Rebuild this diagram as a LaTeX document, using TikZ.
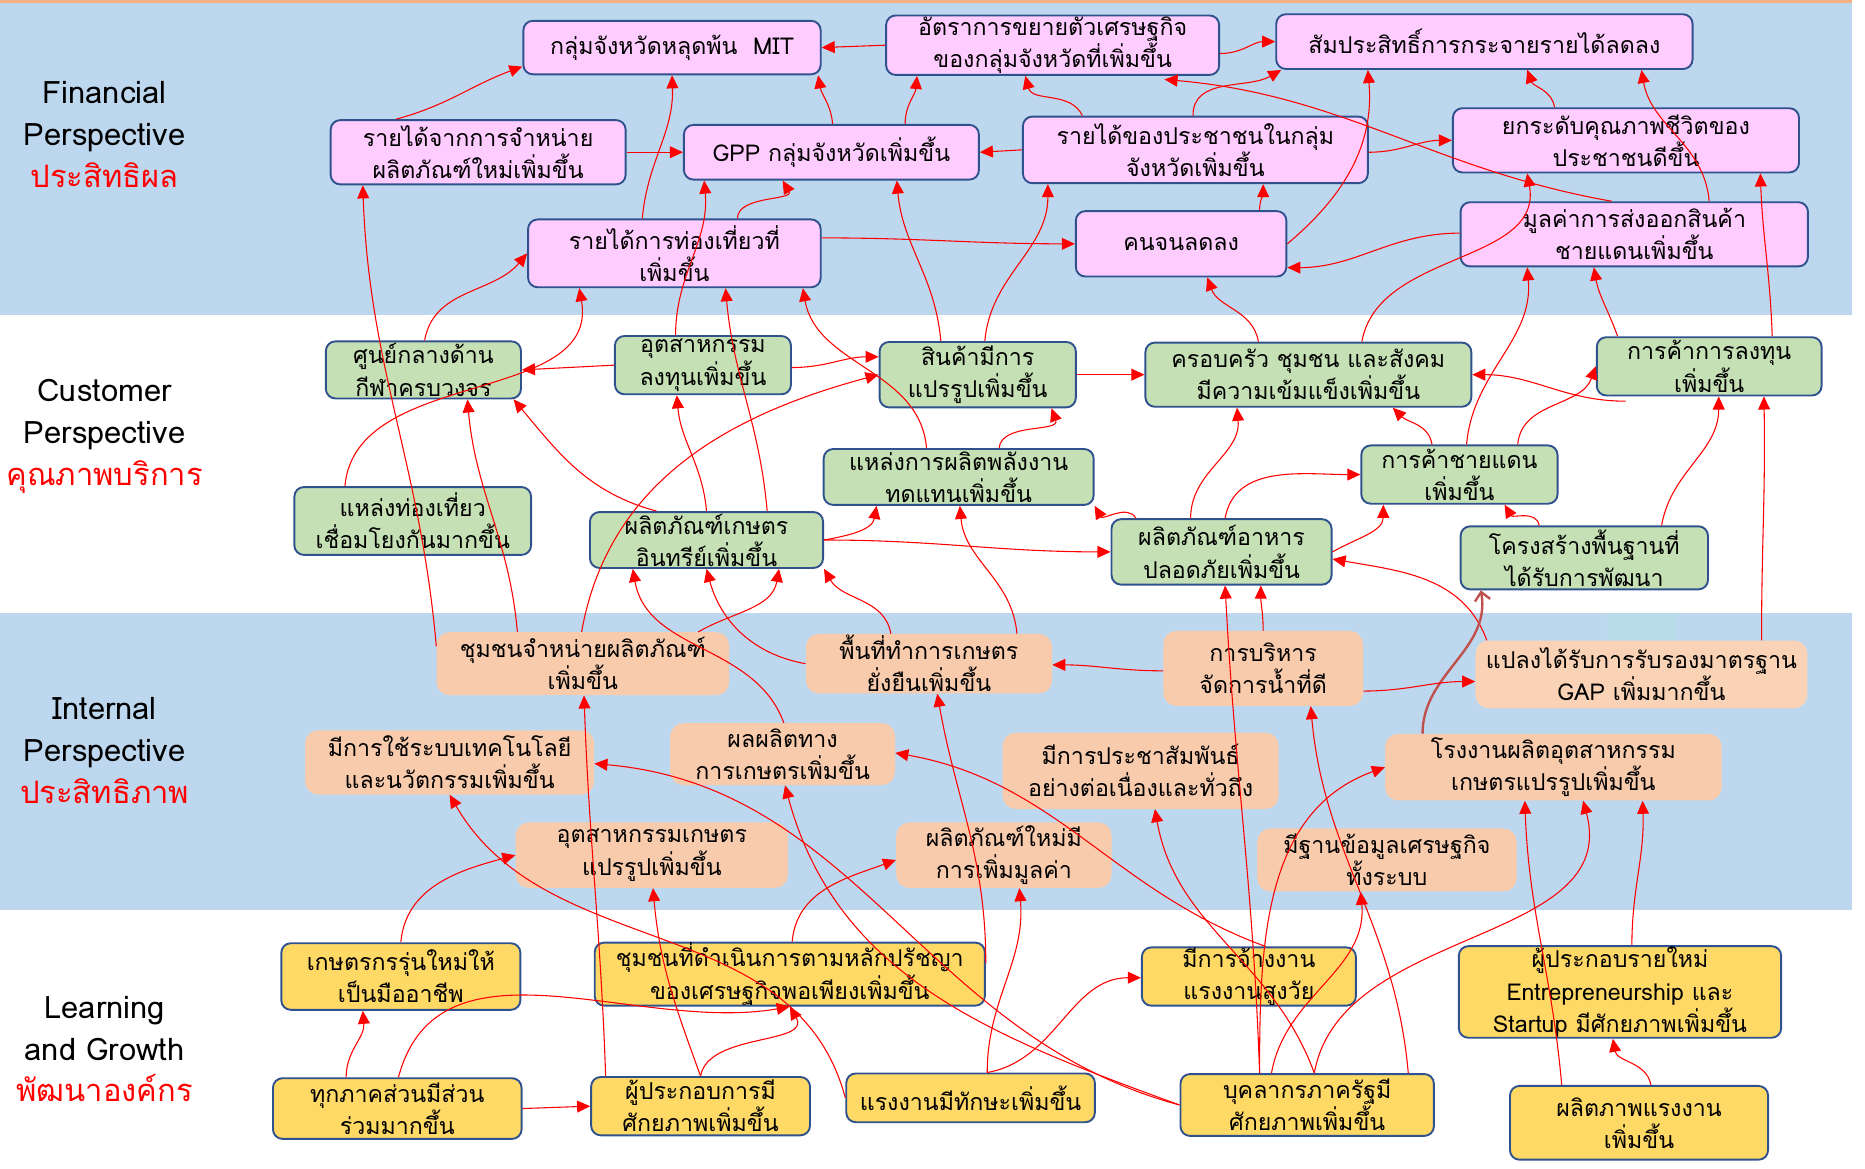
\documentclass[tikz,border=0pt]{standalone}
\usepackage{fontspec}
\setmainfont[Script=Thai]{Loma}
\usetikzlibrary{arrows.meta}
\definecolor{bandblue}{HTML}{BDD7EE}
\definecolor{topline}{HTML}{F4B183}
\definecolor{pinkfill}{HTML}{FFCCFF}
\definecolor{greenfill}{HTML}{C5E0B4}
\definecolor{peachfill}{HTML}{F8CBAD}
\definecolor{peachlight}{HTML}{FAD3B6}
\definecolor{yellowfill}{HTML}{FFD966}
\definecolor{bordercol}{HTML}{2F528F}
\definecolor{darkarrow}{HTML}{C0504D}
\definecolor{tealpatch}{HTML}{B7DDE8}
\tikzset{
  boxbase/.style={align=center, inner sep=0pt, font=\fontsize{19.5}{27}\selectfont},
  bordered/.style={boxbase, rounded corners=8pt, draw=bordercol, line width=1.6pt},
  fin/.style={bordered, fill=pinkfill},
  cus/.style={bordered, fill=greenfill},
  intl/.style={boxbase, rounded corners=11pt, fill=peachfill},
  lrn/.style={bordered, fill=yellowfill},
  arr/.style={draw=red, line width=0.9pt, -{Triangle[length=11pt,width=10pt]}},
  darr/.style={draw=darkarrow, line width=2pt, -{Straight Barb[length=7pt,width=13pt]}},
  lbl/.style={align=center, inner sep=0pt, font=\fontsize{26}{35}\selectfont}
}
\begin{document}
\begin{tikzpicture}[x=1pt,y=1pt]
\useasboundingbox (0,0) rectangle (1568,-982);
% bands
\fill[topline] (0,0) rectangle (1557,-2.5);
\fill[bandblue] (0,-2.5) rectangle (1557,-265);
\fill[bandblue] (0,-515) rectangle (1557,-765);
\fill[tealpatch] (1351,-516) rectangle (1410,-538);

% side labels
\node[lbl] (lblF) at (88,-113) {Financial\\Perspective\\\textcolor{red}{ประสิทธิผล}};
\node[lbl] (lblC) at (88,-367) {Customer\\Perspective\\\textcolor{red}{คุณภาพบริการ}};
\node[lbl] (lblI) at (88,-631) {Internal\\Perspective\\\textcolor{red}{ประสิทธิภาพ}};
\node[lbl] (lblL) at (88,-882) {Learning\\and Growth\\\textcolor{red}{พัฒนาองค์กร}};

% Financial
\node[fin, minimum width=250pt, minimum height=45pt] (F1) at (565,-40) {กลุ่มจังหวัดหลุดพ้น\ \ MIT};
\node[fin, minimum width=280pt, minimum height=50pt] (F2) at (885,-38) {อัตราการขยายตัวเศรษฐกิจ\\ของกลุ่มจังหวัดที่เพิ่มขึ้น};
\node[fin, minimum width=350pt, minimum height=46pt] (F3) at (1248,-35) {สัมประสิทธิ์การกระจายรายได้ลดลง};
\node[fin, minimum width=248pt, minimum height=54pt] (F4) at (402,-128) {รายได้จากการจำหน่าย\\ผลิตภัณฑ์ใหม่เพิ่มขึ้น};
\node[fin, minimum width=248pt, minimum height=46pt] (F5) at (699,-128) {GPP กลุ่มจังหวัดเพิ่มขึ้น};
\node[fin, minimum width=290pt, minimum height=56pt] (F6) at (1005,-126) {รายได้ของประชาชนในกลุ่ม\\จังหวัดเพิ่มขึ้น};
\node[fin, minimum width=291pt, minimum height=54pt] (F7) at (1367,-118) {ยกระดับคุณภาพชีวิตของ\\ประชาชนดีขึ้น};
\node[fin, minimum width=246pt, minimum height=57pt] (F8) at (567,-213) {รายได้การท่องเที่ยวที่\\เพิ่มขึ้น};
\node[fin, minimum width=177pt, minimum height=55pt] (F9) at (993,-205) {คนจนลดลง};
\node[fin, minimum width=292pt, minimum height=54pt] (F10) at (1374,-197) {มูลค่าการส่งออกสินค้า\\ชายแดนเพิ่มขึ้น};

% Customer
\node[cus, minimum width=164pt, minimum height=48pt] (C1) at (356,-311) {ศูนย์กลางด้าน\\กีฬาครบวงจร};
\node[cus, minimum width=148pt, minimum height=49pt] (C2) at (591,-307) {อุตสาหกรรม\\ลงทุนเพิ่มขึ้น};
\node[cus, minimum width=165pt, minimum height=55pt] (C3) at (822,-315) {สินค้ามีการ\\แปรรูปเพิ่มขึ้น};
\node[cus, minimum width=274pt, minimum height=54pt] (C4) at (1100,-315) {ครอบครัว ชุมชน และสังคม\\มีความเข้มแข็งเพิ่มขึ้น};
\node[cus, minimum width=189pt, minimum height=49pt] (C5) at (1437,-308) {การค้าการลงทุน\\เพิ่มขึ้น};
\node[cus, minimum width=227pt, minimum height=47pt] (C6) at (806,-401) {แหล่งการผลิตพลังงาน\\ทดแทนเพิ่มขึ้น};
\node[cus, minimum width=165pt, minimum height=49pt] (C7) at (1227,-399) {การค้าชายแดน\\เพิ่มขึ้น};
\node[cus, minimum width=199pt, minimum height=57pt] (C8) at (347,-438) {แหล่งท่องเที่ยว\\เชื่อมโยงกันมากขึ้น};
\node[cus, minimum width=196pt, minimum height=47pt] (C9) at (594,-454) {ผลิตภัณฑ์เกษตร\\อินทรีย์เพิ่มขึ้น};
\node[cus, minimum width=185pt, minimum height=55pt] (C10) at (1027,-464) {ผลิตภัณฑ์อาหาร\\ปลอดภัยเพิ่มขึ้น};
\node[cus, minimum width=208pt, minimum height=53pt] (C11) at (1332,-469) {โครงสร้างพื้นฐานที่\\ได้รับการพัฒนา};

% Internal
\node[intl, minimum width=246pt, minimum height=53pt] (I1) at (490,-558) {ชุมชนจำหน่ายผลิตภัณฑ์\\เพิ่มขึ้น};
\node[intl, minimum width=207pt, minimum height=50pt] (I2) at (781,-558) {พื้นที่ทำการเกษตร\\ยั่งยืนเพิ่มขึ้น};
\node[intl, minimum width=168pt, minimum height=63pt] (I3) at (1062,-562) {การบริหาร\\จัดการน้ำที่ดี};
\node[intl, fill=peachlight, minimum width=279pt, minimum height=57pt] (I4) at (1380,-567) {แปลงได้รับการรับรองมาตรฐาน\\GAP เพิ่มมากขึ้น};
\node[intl, minimum width=243pt, minimum height=54pt] (I5) at (378,-641) {มีการใช้ระบบเทคโนโลยี\\และนวัตกรรมเพิ่มขึ้น};
\node[intl, minimum width=189pt, minimum height=52pt] (I6) at (658,-634) {ผลผลิตทาง\\การเกษตรเพิ่มขึ้น};
\node[intl, minimum width=232pt, minimum height=64pt] (I7) at (959,-648) {มีการประชาสัมพันธ์\\อย่างต่อเนื่องและทั่วถึง};
\node[intl, minimum width=283pt, minimum height=56pt] (I8) at (1306,-645) {โรงงานผลิตอุตสาหกรรม\\เกษตรแปรรูปเพิ่มขึ้น};
\node[intl, minimum width=229pt, minimum height=55pt] (I9) at (548,-719) {อุตสาหกรรมเกษตร\\แปรรูปเพิ่มขึ้น};
\node[intl, minimum width=181pt, minimum height=55pt] (I10) at (844,-719) {ผลิตภัณฑ์ใหม่มี\\การเพิ่มมูลค่า};
\node[intl, minimum width=218pt, minimum height=53pt] (I11) at (1166,-723) {มีฐานข้อมูลเศรษฐกิจ\\ทั้งระบบ};

% Learning
\node[lrn, minimum width=201pt, minimum height=56pt] (L1) at (337,-821) {เกษตรกรรุ่นใหม่ให้\\เป็นมืออาชีพ};
\node[lrn, minimum width=328pt, minimum height=53pt] (L2) at (664,-819) {ชุมชนที่ดำเนินการตามหลักปรัชญา\\ของเศรษฐกิจพอเพียงเพิ่มขึ้น};
\node[lrn, minimum width=180pt, minimum height=49pt] (L3) at (1050,-821) {มีการจ้างงาน\\แรงงานสูงวัย};
\node[lrn, minimum width=271pt, minimum height=77pt] (L4) at (1362,-834) {ผู้ประกอบรายใหม่\\Entrepreneurship และ\\Startup มีศักยภาพเพิ่มขึ้น};
\node[lrn, minimum width=209pt, minimum height=51pt] (L5) at (334,-932) {ทุกภาคส่วนมีส่วน\\ร่วมมากขึ้น};
\node[lrn, minimum width=184pt, minimum height=49pt] (L6) at (589,-930) {ผู้ประกอบการมี\\ศักยภาพเพิ่มขึ้น};
\node[lrn, minimum width=209pt, minimum height=41pt] (L7) at (816,-923) {แรงงานมีทักษะเพิ่มขึ้น};
\node[lrn, minimum width=213pt, minimum height=52pt] (L8) at (1099,-929) {บุคลากรภาครัฐมี\\ศักยภาพเพิ่มขึ้น};
\node[lrn, minimum width=217pt, minimum height=62pt] (L9) at (1378,-944) {ผลิตภาพแรงงาน\\เพิ่มขึ้น};

% ---------- connectors: financial ----------
\draw[arr] (F2.west) -- (F1.east);
\draw[arr] ([yshift=-7pt]F2.east) to[out=0,in=180] (F3.west);
\draw[arr] ([xshift=-69pt]F4.north) to[out=15,in=200] ([yshift=-16pt]F1.west);
\draw[arr] (F4.east) -- (F5.west);
\draw[arr] ([xshift=1pt]F5.north) to[out=95,in=-80] ([xshift=-3pt]F1.south east);
\draw[arr] ([xshift=62pt]F5.north) to[out=90,in=-95] ([xshift=-114pt]F2.south);
\draw[arr] (F6.west) -- (F5.east);
\draw[arr] ([xshift=-95pt]F6.north) to[out=115,in=-75] ([xshift=-23pt]F2.south);
\draw[arr] ([xshift=-2pt]F6.north) to[out=90,in=210] ([xshift=5pt]F3.south west);
\draw[arr] ([yshift=-2pt]F6.east) to[out=0,in=180] (F7.west);
\draw[arr] ([xshift=66pt]F9.north) to[out=90,in=-90] ([xshift=57pt]F6.south);
\draw[arr] (F9.east) to[out=40,in=-85] ([xshift=-98pt]F3.south);
\draw[arr] ([yshift=13pt]F8.east) to[out=0,in=180] (F9.west);
\draw[arr] ([yshift=1pt]F10.west) to[out=180,in=0] ([yshift=-20pt]F9.east);
\draw[arr] ([xshift=-19pt]F10.north) to[out=170,in=-5] ([xshift=94pt,yshift=-3pt]F2.south);
\draw[arr] ([xshift=-60pt]F7.north) to[out=100,in=-70] ([xshift=36pt]F3.south);
\draw[arr] ([xshift=63pt]F10.north) to[out=95,in=-80] ([xshift=132pt]F3.south);
\draw[arr] ([xshift=-27pt]F8.north) to[out=85,in=-88] (F1.south);
\draw[arr] ([xshift=53pt]F8.north) to[out=90,in=-60] ([xshift=-41pt]F5.south);

% ---------- customer -> financial ----------
\draw[arr] ([xshift=45pt]C4.north) to[out=80,in=-80] ([xshift=-83pt]F7.south);
\draw[arr] ([xshift=6pt]C7.north) to[out=85,in=-85] ([xshift=-90pt]F10.south);
\draw[arr] ([xshift=-77pt]C5.north) to[out=110,in=-80] ([xshift=-34pt]F10.south);
\draw[arr] ([xshift=53pt]C5.north) to[out=92,in=-88] ([xshift=113pt]F7.south);
\draw[arr] ([xshift=-42pt]C4.north) to[out=100,in=-70] ([xshift=22pt]F9.south);
\draw[arr] ([xshift=-31pt]C3.north) to[out=95,in=-85] ([xshift=55pt]F5.south);
\draw[arr] ([xshift=6pt]C3.north) to[out=85,in=-90] ([xshift=-124pt]F6.south);
\draw[arr] ([xshift=-23pt]C2.north) to[out=90,in=-85] ([xshift=-107pt]F5.south);
\draw[arr] ([xshift=1pt]C1.north) to[out=80,in=230] (F8.west);
\draw[arr] ([xshift=-57pt]C8.north) to[out=85,in=-80] ([xshift=-80pt]F8.south);
\draw[arr] ([xshift=51pt]C9.north) to[out=95,in=-85] ([xshift=43pt]F8.south);
\draw[arr] ([xshift=-27pt]C6.north) to[out=95,in=-80] ([xshift=108pt]F8.south);

% ---------- customer internal ----------
\draw[arr] (C2.west) -- (C1.east);
\draw[arr] ([yshift=-2pt]C2.east) to[out=0,in=180] ([yshift=15pt]C3.west);
\draw[arr] (C3.east) -- (C4.west);
\draw[arr] ([xshift=34pt]C6.north) to[out=85,in=-70] ([xshift=62pt]C3.south);
\draw[arr] ([xshift=-42pt]C9.north) to[out=165,in=-50] ([xshift=-7pt]C1.south east);
\draw[arr] (C9.north) to[out=95,in=-85] ([xshift=-22pt]C2.south);
\draw[arr] (C9.east) to[out=10,in=-100] ([xshift=-69pt]C6.south);
\draw[arr] (C9.east) to[out=0,in=180] (C10.west);
\draw[arr] ([xshift=-72pt]C10.north) to[out=120,in=-60] (C6.south east);
\draw[arr] ([xshift=-26pt]C10.north) to[out=90,in=-85] ([xshift=-60pt]C4.south);
\draw[arr] ([xshift=3pt]C10.north) to[out=80,in=180] (C7.west);
\draw[arr] (C10.east) to[out=30,in=-90] ([xshift=-64pt]C7.south);
\draw[arr] ([xshift=-38pt]C11.north) to[out=100,in=-60] ([xshift=38pt]C7.south);
\draw[arr] ([xshift=-23pt]C7.north) to[out=100,in=-45] ([xshift=71pt]C4.south);
\draw[arr] ([xshift=25pt,yshift=-4pt]C5.south west) to[out=180,in=0] (C4.east);
\draw[arr] ([xshift=49pt]C7.north) to[out=85,in=250] (C5.west);
\draw[arr] ([xshift=65pt]C11.north) to[out=80,in=-90] ([xshift=8pt]C5.south);

% ---------- internal -> customer / financial ----------
\draw[arr] ([yshift=-12pt]I1.north west) to[out=95,in=-88] ([xshift=-97pt]F4.south);
\draw[arr] ([xshift=-1pt]I1.north) to[out=80,in=195] (C3.west);
\draw[arr] ([xshift=-55pt]I1.north) to[out=95,in=-85] ([xshift=37pt]C1.south);
\draw[arr] ([xshift=97pt]I1.north) to[out=30,in=-100] ([xshift=61pt]C9.south);
\draw[arr] ([xshift=74pt]I2.north) to[out=95,in=-85] ([xshift=1pt]C6.south);
\draw[arr] (I2.west) to[out=170,in=-75] (C9.south);
\draw[arr] ([xshift=-32pt]I2.north) to[out=100,in=-60] (C9.south east);
\draw[arr] ([xshift=1pt]I6.north) to[out=110,in=-80] ([xshift=-62pt]C9.south);
\draw[arr] ([xshift=-130pt]I4.north) to[out=110,in=-10] ([yshift=-6pt]C10.east);
\draw[arr] ([xshift=101pt]I4.north) to[out=90,in=-89] ([xshift=46pt]C5.south);
\draw[darr] ([xshift=-110pt]I8.north) to[out=90,in=-80] ([xshift=-87pt]C11.south);
\draw[arr] (I3.north) to[out=90,in=-90] ([xshift=33pt]C10.south);
\draw[arr] ([yshift=-2pt]I3.west) to[out=180,in=0] ([yshift=-1pt]I2.east);
\draw[arr] ([yshift=-19pt]I3.east) to[out=0,in=180] ([yshift=-6pt]I4.west);

% ---------- learning -> ----------
\draw[arr] ([xshift=-40pt]L8.north) to[out=92,in=-87] ([xshift=3pt]C10.south);
\draw[arr] (L8.west) to[out=165,in=-5] ([yshift=-1pt]I5.east);
\draw[arr] (L8.west) to[out=160,in=-75] ([xshift=2pt]I6.south);
\draw[arr] ([xshift=14pt]L3.north) to[out=160,in=-10] ([yshift=1pt]I6.east);
\draw[arr] (L7.west) to[out=105,in=-60] (I5.south);
\draw[arr] ([xshift=13pt]L6.north west) to[out=92,in=-88] ([xshift=1pt]I1.south);
\draw[arr] (L6.north) to[out=110,in=-85] ([xshift=1pt]I9.south);
\draw[arr] (L6.north) to[out=80,in=-60] (L2.south);
\draw[arr] ([xshift=1pt]L5.north) to[out=75,in=190] (L2.south);
\draw[arr] ([xshift=-43pt]L5.north) to[out=90,in=-85] ([xshift=-32pt]L1.south);
\draw[arr] (L5.east) -- (L6.west);
\draw[arr] (L1.north) to[out=85,in=195] (I9.west);
\draw[arr] ([xshift=2pt]L2.north) to[out=85,in=200] ([yshift=-4pt]I10.west);
\draw[arr] ([yshift=9pt]L2.east) to[out=90,in=-80] ([xshift=7pt]I2.south);
\draw[arr] ([xshift=14pt]L7.north) to[out=90,in=-85] ([xshift=13pt]I10.south);
\draw[arr] ([xshift=14pt]L7.north) to[out=10,in=180] ([yshift=-1pt]L3.west);
\draw[arr] ([xshift=6pt]L8.north) to[out=110,in=-80] ([xshift=12pt]I7.south);
\draw[arr] ([xshift=85pt]L8.north) to[out=95,in=-85] ([xshift=40pt]I3.south);
\draw[arr] ([xshift=-30pt]L8.north) to[out=80,in=-85] ([xshift=-22pt]I11.south);
\draw[arr] ([xshift=6pt]L8.north) to[out=80,in=-75] ([xshift=25pt]I8.south);
\draw[arr] ([xshift=-40pt]L8.north) to[out=90,in=200] (I8.west);
\draw[arr] ([xshift=-65pt]L9.north) to[out=95,in=-88] ([xshift=-24pt]I8.south);
\draw[arr] ([xshift=10pt]L4.north) to[out=90,in=-88] ([xshift=75pt]I8.south);
\draw[arr] ([xshift=10pt]L9.north) to[out=100,in=-80] ([xshift=-6pt]L4.south);
\end{tikzpicture}
\end{document}
